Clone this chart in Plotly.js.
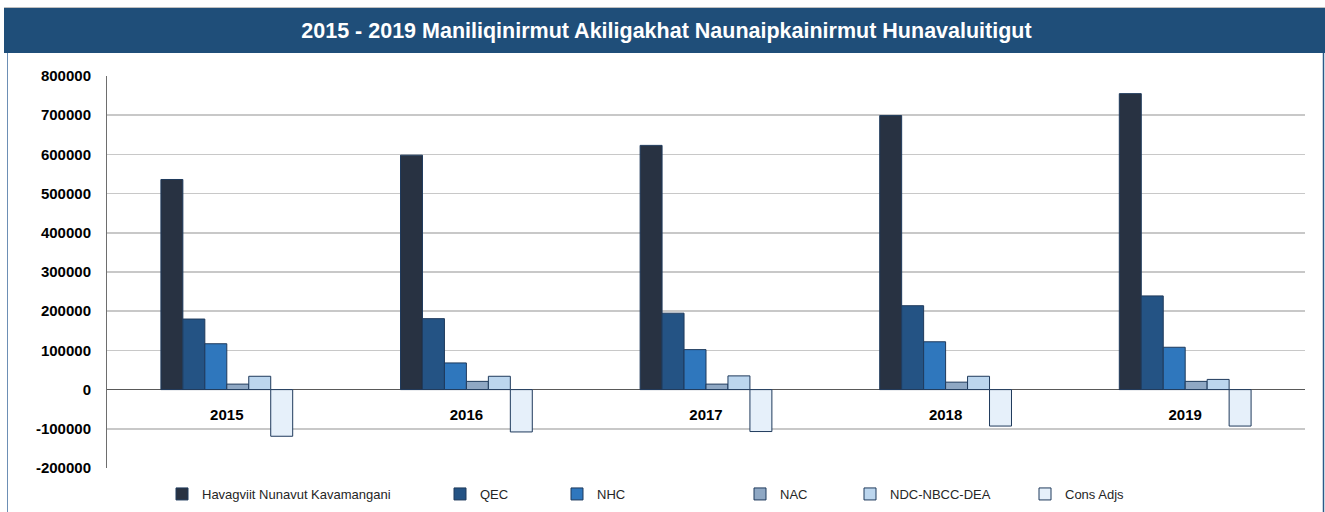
<!DOCTYPE html>
<html>
<head>
<meta charset="utf-8">
<script src="https://cdn.plot.ly/plotly-3.0.1.min.js"></script>
<style>
  html, body { margin: 0; padding: 0; background: #ffffff; }
  #chart { width: 1325px; height: 512px; }
</style>
</head>
<body>
<div id="chart"></div>
<script>
// ---- Data ----
const years = ["2015", "2016", "2017", "2018", "2019"];
const seriesNames = ["Havagviit Nunavut Kavamangani", "QEC", "NHC", "NAC", "NDC-NBCC-DEA", "Cons Adjs"];
const havagviit = [536000, 598000, 623000, 699000, 755000];
const qec       = [180000, 181000, 195000, 214000, 239000];
const nhc       = [117000, 68000, 102000, 122000, 108000];
const nac       = [14000, 21000, 14000, 19000, 21000];
const ndc       = [34000, 34000, 35000, 34000, 26000];
const consAdjs  = [-119000, -108000, -107000, -93000, -93000];
const yTickVals = [800000, 700000, 600000, 500000, 400000, 300000, 200000, 100000, 0, -100000, -200000];
const yTickText = ["800000", "700000", "600000", "500000", "400000", "300000", "200000", "100000", "0", "-100000", "-200000"];
const chartTitle = "2015 - 2019 Maniliqinirmut Akiligakhat Naunaipkainirmut Hunavaluitigut";

// ---- Styling ----
const values = [havagviit, qec, nhc, nac, ndc, consAdjs];
const colors = ["#283242", "#245384", "#2F77BD", "#8FA8C4", "#BCD6EE", "#E6F0FA"];
const W = 1325, H = 512;
const M = { l: 107, r: 20, t: 76, b: 44 };
const pw = W - M.l - M.r, ph = H - M.t - M.b;
const px = v => (v - M.l) / pw;          // pixel x -> paper x
const py = v => (H - M.b - v) / ph;      // pixel y -> paper y

const legendLeft = [162, 440, 557, 740, 850, 1025];
const legendKeys = ["legend", "legend2", "legend3", "legend4", "legend5", "legend6"];

const traces = seriesNames.map((name, i) => ({
  type: "bar",
  name: name,
  x: years,
  y: values[i],
  marker: { color: colors[i], line: { color: "#1F3A5C", width: 1 } },
  legend: legendKeys[i],
  hoverinfo: "x+y+name"
}));

const legendFont = { family: "Liberation Sans, Arial, sans-serif", size: 13, color: "#262626" };
const layout = {
  width: W, height: H,
  margin: M,
  paper_bgcolor: "#ffffff",
  plot_bgcolor: "#ffffff",
  barmode: "group",
  bargap: 0.45,
  bargroupgap: 0,
  title: {
    text: "<b>" + chartTitle + "</b>",
    font: { family: "Liberation Sans, Arial, sans-serif", size: 21.5, color: "#ffffff" },
    xref: "container", x: 0.503, xanchor: "center",
    yref: "container", y: 1 - 30.5 / H, yanchor: "middle"
  },
  xaxis: {
    type: "category",
    anchor: "free",
    position: 0.2,
    showline: false,
    showgrid: false,
    zeroline: false,
    ticks: "",
    ticklabelstandoff: 14,
    tickfont: { family: "Liberation Sans, Arial, sans-serif", size: 15, color: "#000000", weight: "bold" },
    fixedrange: true
  },
  yaxis: {
    range: [-200000, 800000],
    tickmode: "array",
    tickvals: yTickVals,
    ticktext: yTickText,
    showgrid: true,
    gridcolor: "#C8C8C8",
    gridwidth: 1.5,
    zeroline: true,
    zerolinecolor: "#595959",
    zerolinewidth: 1.2,
    showline: true,
    linecolor: "#6E6E6E",
    linewidth: 1,
    ticks: "",
    ticklabelstandoff: 12,
    tickfont: { family: "Liberation Sans, Arial, sans-serif", size: 15, color: "#000000", weight: "bold" },
    fixedrange: true
  },
  shapes: [
    { type: "rect", xref: "paper", yref: "paper", layer: "below",
      x0: px(4), x1: px(1326), y0: py(53), y1: py(8),
      fillcolor: "#1F4E79", line: { width: 0 } },
    { type: "line", xref: "paper", yref: "paper",
      x0: px(4), x1: px(1326), y0: py(7.5), y1: py(7.5),
      line: { color: "#BFBFBF", width: 1 } },
    { type: "line", xref: "paper", yref: "paper",
      x0: px(7.5), x1: px(7.5), y0: py(53), y1: py(513),
      line: { color: "#6D8FB5", width: 1 } },
    { type: "line", xref: "paper", yref: "paper",
      x0: px(1323.5), x1: px(1323.5), y0: py(53), y1: py(513),
      line: { color: "#2B5A88", width: 1.5 } }
  ],
  showlegend: true,
  font: { family: "Liberation Sans, Arial, sans-serif" }
};
legendKeys.forEach((k, i) => {
  layout[k] = {
    orientation: "h",
    xref: "container", yref: "container",
    x: legendLeft[i] / W, xanchor: "left",
    y: 1 - 494 / H, yanchor: "middle",
    bgcolor: "rgba(0,0,0,0)",
    font: legendFont,
    itemclick: false, itemdoubleclick: false
  };
});

Plotly.newPlot("chart", traces, layout, { displayModeBar: false, staticPlot: true });
</script>
</body>
</html>
